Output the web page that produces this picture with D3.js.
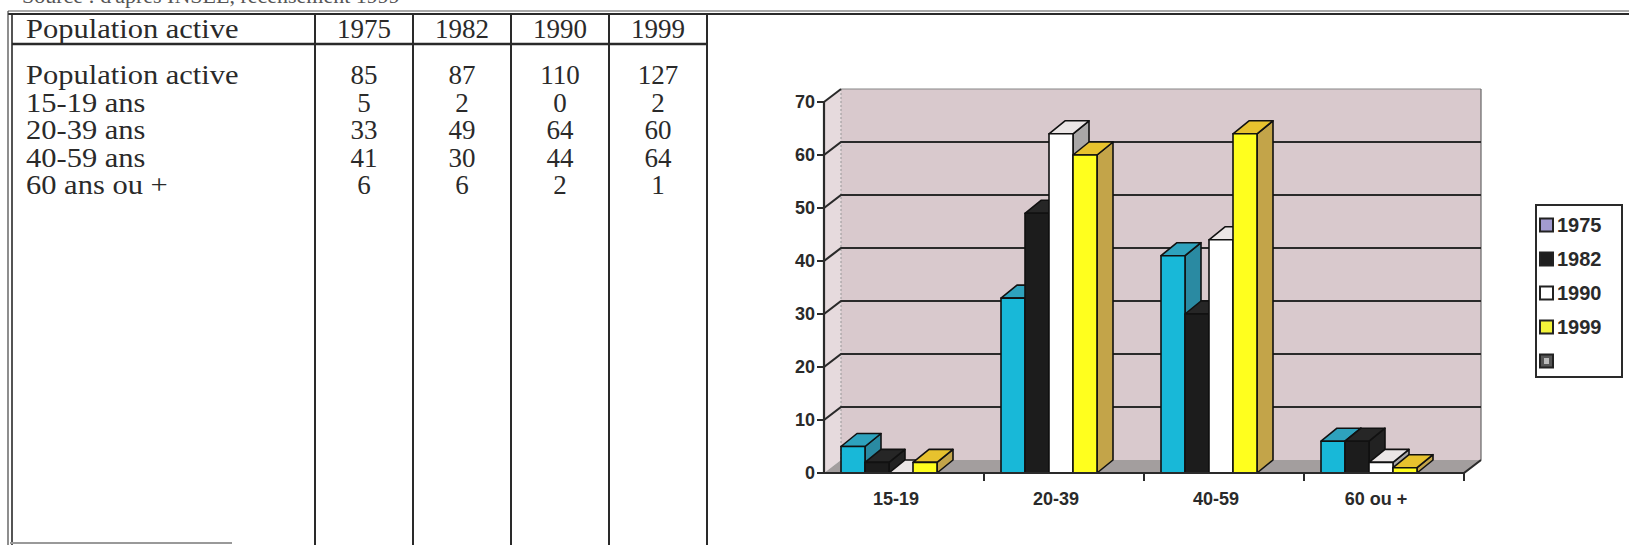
<!DOCTYPE html>
<html><head><meta charset="utf-8">
<script src="https://cdn.jsdelivr.net/npm/d3@7"></script>
<style>body{margin:0;background:#fff;overflow:hidden}</style>
</head><body><svg id="c" width="1629" height="545"></svg>
<script>
// ---- data ----
const categories = ["15-19", "20-39", "40-59", "60 ou +"];
const years = ["1975", "1982", "1990", "1999"];
const values1975 = [5, 33, 41, 6];
const values1982 = [2, 49, 30, 6];
const values1990 = [0, 64, 44, 2];
const values1999 = [2, 60, 64, 1];
const tableHeaderLabel = "Population active";
const tableRowLabels = ["Population active", "15-19 ans", "20-39 ans", "40-59 ans", "60 ans ou +"];
const totals = [85, 87, 110, 127];
const yTicks = [0, 10, 20, 30, 40, 50, 60, 70];
const sourceNote = "Source : d'après INSEE, recensement 1999";

const seriesValues = [values1975, values1982, values1990, values1999];
const tableRows = [totals, ...categories.map((c, ci) => seriesValues.map(s => s[ci]))];

const svg = d3.select("#c");
const ink = "#2a2a2a";

// ---- source line (mostly cut off at top, as in the scan) ----
svg.append("text").attr("x", 22).attr("y", 3)
  .attr("font-family", "Liberation Serif, Times New Roman, serif").attr("font-size", 22)
  .attr("fill", "#555").text(sourceNote);

// ---- table ----
const colX = d3.scaleBand().domain(years).range([315, 707]);
const rowY = d3.scaleBand().domain(d3.range(tableRows.length)).range([59, 196]);
const serif = "Liberation Serif, Times New Roman, serif";
const stretch = x => `translate(${x},0) scale(1.13,1) translate(${-x},0)`;

svg.append("line").attr("x1", 8).attr("x2", 1629).attr("y1", 11).attr("y2", 11).attr("stroke", "#555").attr("stroke-width", 1.2);
svg.append("line").attr("x1", 8).attr("x2", 1629).attr("y1", 14).attr("y2", 14).attr("stroke", ink).attr("stroke-width", 2);
svg.append("line").attr("x1", 8).attr("x2", 8).attr("y1", 11).attr("y2", 545).attr("stroke", "#444").attr("stroke-width", 1.2);
svg.append("line").attr("x1", 12).attr("x2", 12).attr("y1", 14).attr("y2", 545).attr("stroke", ink).attr("stroke-width", 1.6);
svg.append("line").attr("x1", 12).attr("x2", 707).attr("y1", 44).attr("y2", 44).attr("stroke", ink).attr("stroke-width", 2.5);
const sepX = [colX(years[0]), ...years.map(y => colX(y) + colX.bandwidth())];
svg.selectAll(".sep").data(sepX).join("line")
  .attr("x1", d => d).attr("x2", d => d).attr("y1", 14).attr("y2", 545)
  .attr("stroke", ink).attr("stroke-width", 2);
svg.append("line").attr("x1", 10).attr("x2", 232).attr("y1", 543).attr("y2", 543).attr("stroke", "#999").attr("stroke-width", 2);

svg.append("text").attr("x", 26).attr("y", 38).attr("font-family", serif).attr("font-size", 27)
  .attr("fill", ink).attr("transform", stretch(26)).text(tableHeaderLabel);
svg.selectAll(".hy").data(years).join("text")
  .attr("x", d => colX(d) + colX.bandwidth() / 2).attr("y", 38)
  .attr("text-anchor", "middle").attr("font-family", serif).attr("font-size", 27).attr("fill", ink).text(d => d);
tableRows.forEach((row, ri) => {
  const by = rowY(ri) + rowY.bandwidth() - 2;
  svg.append("text").attr("x", 26).attr("y", by).attr("font-family", serif).attr("font-size", 27)
    .attr("fill", ink).attr("transform", stretch(26)).text(tableRowLabels[ri]);
  svg.selectAll(null).data(row).join("text")
    .attr("x", (d, i) => colX(years[i]) + colX.bandwidth() / 2).attr("y", by)
    .attr("text-anchor", "middle").attr("font-family", serif).attr("font-size", 27).attr("fill", ink).text(d => d);
});

// ---- 3D chart ----
const x0 = d3.scaleBand().domain(categories).range([824, 1464]);
const xs = d3.scaleBand().domain(years).range([17, 113]);
const y = d3.scaleLinear().domain([0, 70]).range([473, 102]);
const DX = 17, DY = -13;
const BX = 16, BY = -13;
const sans = "Liberation Sans, Arial, sans-serif";
const x0L = x0.range()[0], x0R = x0.range()[1];

const g = svg.append("g");
g.append("polygon").attr("points", [[x0L, y(0)], [x0L, y(70)], [x0L + DX, y(70) + DY], [x0L + DX, y(0) + DY]].join(" "))
  .attr("fill", "#e6dadd");
g.append("polygon").attr("points", [[x0L + DX, y(0) + DY], [x0L + DX, y(70) + DY], [x0R + DX, y(70) + DY], [x0R + DX, y(0) + DY]].join(" "))
  .attr("fill", "#d9c9cd");
g.append("line").attr("x1", x0L + DX).attr("x2", x0R + DX).attr("y1", y(70) + DY).attr("y2", y(70) + DY).attr("stroke", "#888").attr("stroke-width", 1.2);
g.append("line").attr("x1", x0R + DX).attr("x2", x0R + DX).attr("y1", y(70) + DY).attr("y2", y(0) + DY).attr("stroke", "#666").attr("stroke-width", 1.2);
g.append("line").attr("x1", x0L + DX).attr("x2", x0L + DX).attr("y1", y(70) + DY).attr("y2", y(0) + DY).attr("stroke", "#999").attr("stroke-width", 1).attr("stroke-dasharray", "2,2");
g.append("polygon").attr("points", [[x0L, y(0)], [x0R, y(0)], [x0R + DX, y(0) + DY], [x0L + DX, y(0) + DY]].join(" "))
  .attr("fill", "#a39e9e");
yTicks.filter(t => t > 0 && t < 70).forEach(t => {
  g.append("polyline").attr("points", [[x0L, y(t)], [x0L + DX, y(t) + DY], [x0R + DX, y(t) + DY]].join(" "))
    .attr("fill", "none").attr("stroke", ink).attr("stroke-width", 2.2);
});
g.append("line").attr("x1", x0L).attr("x2", x0L + DX).attr("y1", y(70)).attr("y2", y(70) + DY).attr("stroke", ink).attr("stroke-width", 2);

const faceColors = {
  "1975": {front: "#18b8d8", top: "#2ea2bd", side: "#2a8aa2"},
  "1982": {front: "#1c1c1c", top: "#262626", side: "#222222"},
  "1990": {front: "#ffffff", top: "#ebe6e6", side: "#a9a7a7"},
  "1999": {front: "#ffff1e", top: "#e7c22e", side: "#c3a449"}
};
categories.forEach((c, ci) => {
  years.forEach((yr, si) => {
    const v = seriesValues[si][ci];
    const xl = x0(c) + xs(yr), xr = xl + xs.bandwidth();
    const yt = y(v), yb = y(0);
    const col = faceColors[yr];
    const bg = g.append("g").attr("stroke", "#111").attr("stroke-width", 1.6).attr("stroke-linejoin", "round");
    bg.append("polygon").attr("points", [[xr, yb], [xr, yt], [xr + BX, yt + BY], [xr + BX, yb + BY]].join(" ")).attr("fill", col.side);
    bg.append("polygon").attr("points", [[xl, yt], [xr, yt], [xr + BX, yt + BY], [xl + BX, yt + BY]].join(" ")).attr("fill", col.top);
    if (v > 0) bg.append("rect").attr("x", xl).attr("y", yt).attr("width", xs.bandwidth()).attr("height", yb - yt).attr("fill", col.front);
  });
});

g.append("line").attr("x1", x0L).attr("x2", x0L).attr("y1", y(0)).attr("y2", y(70)).attr("stroke", ink).attr("stroke-width", 2.2);
yTicks.forEach(t => {
  g.append("line").attr("x1", x0L - 7).attr("x2", x0L).attr("y1", y(t)).attr("y2", y(t)).attr("stroke", ink).attr("stroke-width", 2);
  g.append("text").attr("x", x0L - 9).attr("y", y(t)).attr("dy", "0.36em").attr("text-anchor", "end")
    .attr("font-family", sans).attr("font-weight", "bold").attr("font-size", 18).attr("fill", ink).text(t);
});
g.append("polyline").attr("points", [[x0L, y(0)], [x0R, y(0)], [x0R + DX, y(0) + DY]].join(" "))
  .attr("fill", "none").attr("stroke", ink).attr("stroke-width", 2.2);
categories.forEach(c => {
  const xe = x0(c) + x0.bandwidth();
  g.append("line").attr("x1", xe).attr("x2", xe).attr("y1", y(0)).attr("y2", y(0) + 8).attr("stroke", ink).attr("stroke-width", 2);
  g.append("text").attr("x", x0(c) + x0.bandwidth() * 0.45).attr("y", 505).attr("text-anchor", "middle")
    .attr("font-family", sans).attr("font-weight", "bold").attr("font-size", 18).attr("fill", ink).text(c);
});

// legend
const legendItems = [...years, ""];
const legendSwatch = ["#a29bd0", "#1f1f1f", "#ffffff", "#f4f43a", "#555555"];
const lg = svg.append("g");
lg.append("rect").attr("x", 1536).attr("y", 205).attr("width", 86).attr("height", 172)
  .attr("fill", "#fff").attr("stroke", ink).attr("stroke-width", 2);
const ly = d3.scalePoint().domain(d3.range(legendItems.length)).range([225, 361]);
legendItems.forEach((t, i) => {
  lg.append("rect").attr("x", 1540).attr("y", ly(i) - 6.5).attr("width", 13).attr("height", 13)
    .attr("fill", legendSwatch[i]).attr("stroke", "#222").attr("stroke-width", 2);
  if (t) lg.append("text").attr("x", 1557).attr("y", ly(i)).attr("dy", "0.36em")
    .attr("font-family", sans).attr("font-weight", "bold").attr("font-size", 20).attr("fill", ink).text(t);
});
lg.append("rect").attr("x", 1544).attr("y", ly(4) - 3).attr("width", 5).attr("height", 6).attr("fill", "#bbb");
</script>
</body></html>
